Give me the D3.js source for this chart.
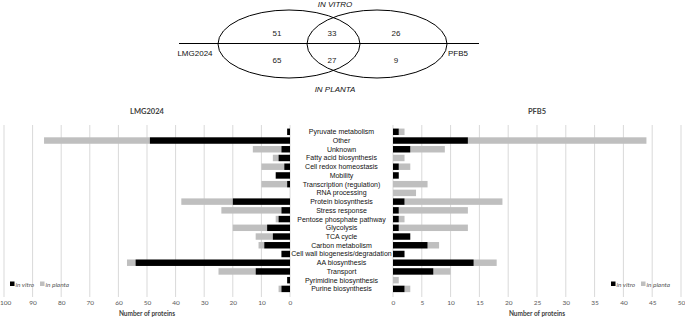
<!DOCTYPE html>
<html lang="en">
<head>
    <meta charset="UTF-8">
    <title>Proteins</title>
    <script src="https://cdn.jsdelivr.net/npm/d3@7/dist/d3.min.js"></script>
    <style>
        body { margin: 0; background: #fff; }
    </style>
</head>
<body>
    <script>
        // categories, top to bottom
        const categories = ["Pyruvate metabolism", "Other", "Unknown", "Fatty acid biosynthesis",
            "Cell redox homeostasis", "Mobility", "Transcription (regulation)", "RNA processing",
            "Protein biosynthesis", "Stress response", "Pentose phosphate pathway", "Glycolysis",
            "TCA cycle", "Carbon metabolism", "Cell wall biogenesis/degradation", "AA biosynthesis",
            "Transport", "Pyrimidine biosynthesis", "Purine biosynthesis"];
        const lmgVitro  = [1, 49, 3, 4, 2, 5, 1, 0, 20, 3, 4, 8, 6, 9, 3, 54, 12, 1, 3];
        const lmgPlanta = [0, 37, 10, 2, 8, 0, 9, 0, 18, 21, 1, 12, 6, 2, 0, 3, 13, 0, 1];
        const pfbVitro  = [1, 13, 3, 0, 1, 1, 0, 0, 2, 1, 1, 1, 3, 6, 2, 14, 7, 0, 2];
        const pfbPlanta = [1, 31, 6, 2, 2, 0, 6, 4, 17, 12, 1, 12, 0, 2, 0, 4, 3, 1, 1];
        const leftTicks  = d3.range(0, 101, 10);
        const rightTicks = d3.range(0, 51, 5);
        // venn counts: [in vitro row, in planta row]
        const vennVitro  = [51, 33, 26];
        const vennPlanta = [65, 27, 9];

        let width = 685;
        let height = 317;
        let svg = d3.select("body").append("svg")
            .attr("width", width)
            .attr("height", height);

        let sans = "'Liberation Sans', Arial, sans-serif";
        let calib = "Lato, 'Open Sans', sans-serif";

        // ---- venn diagram ----
        let venn = svg.append("g");
        venn.append("line")
            .attr("x1", 179).attr("x2", 479)
            .attr("y1", 43.5).attr("y2", 43.5)
            .attr("stroke", "#000").attr("stroke-width", 1);
        [[289, 71], [377, 70]].forEach(e => {
            venn.append("ellipse")
                .attr("cx", e[0]).attr("cy", 44)
                .attr("rx", e[1]).attr("ry", 34)
                .attr("fill", "none").attr("stroke", "#000").attr("stroke-width", 1);
        });
        let vennX = [277, 332, 396];
        venn.selectAll(".vv").data(vennVitro).join("text")
            .attr("x", (d, i) => vennX[i]).attr("y", 36)
            .attr("text-anchor", "middle")
            .style("font", `8px ${sans}`).attr("fill", "#222")
            .text(d => d);
        venn.selectAll(".vp").data(vennPlanta).join("text")
            .attr("x", (d, i) => vennX[i]).attr("y", 63)
            .attr("text-anchor", "middle")
            .style("font", `8px ${sans}`).attr("fill", "#222")
            .text(d => d);
        venn.append("text").attr("x", 335).attr("y", 7)
            .attr("text-anchor", "middle")
            .style("font", `italic 8px ${sans}`).attr("fill", "#111").text("IN VITRO");
        venn.append("text").attr("x", 335).attr("y", 92)
            .attr("text-anchor", "middle")
            .style("font", `italic 8px ${sans}`).attr("fill", "#111").text("IN PLANTA");
        venn.append("text").attr("x", 195).attr("y", 56)
            .attr("text-anchor", "middle")
            .style("font", `8px ${sans}`).attr("fill", "#111").text("LMG2024");
        venn.append("text").attr("x", 458).attr("y", 56)
            .attr("text-anchor", "middle")
            .style("font", `8px ${sans}`).attr("fill", "#111").text("PFB5");

        // ---- bar charts ----
        let y = d3.scaleBand()
            .domain(categories)
            .range([126.3, 294.4])
            .padding(0.26);

        let xl = d3.scaleLinear().domain([0, 100]).range([290, 4]);
        let xr = d3.scaleLinear().domain([0, 50]).range([393, 681]);

        function panel(x, ticks, vitro, planta, title, titleX, legendX) {
            let g = svg.append("g");
            // gridlines
            g.selectAll(".grid").data(ticks).join("line")
                .attr("x1", d => x(d)).attr("x2", d => x(d))
                .attr("y1", 125).attr("y2", 297)
                .attr("stroke", "#d9d9d9").attr("stroke-width", 1);

            let axis = d3.axisBottom(x).tickValues(ticks).tickSize(0).tickPadding(0);
            let ag = g.append("g").attr("transform", `translate(0, 299)`).call(axis);
            ag.select(".domain").remove();
            ag.selectAll("text")
                .style("font", `6.5px ${calib}`).attr("fill", "#595959").attr("dy", "0.9em");
            // keep the outermost label inside the page
            ag.selectAll("text").filter(d => x(d) < 6).attr("dx", 1.2);

            let rows = categories.map((c, i) => ({c: c, v: vitro[i], p: planta[i]}));
            g.selectAll(".pl").data(rows).join("rect")
                .attr("x", d => Math.min(x(d.v), x(d.v + d.p)))
                .attr("y", d => y(d.c))
                .attr("width", d => Math.abs(x(d.v + d.p) - x(d.v)))
                .attr("height", y.bandwidth())
                .attr("fill", "#bfbfbf");
            g.selectAll(".vi").data(rows).join("rect")
                .attr("x", d => Math.min(x(0), x(d.v)))
                .attr("y", d => y(d.c))
                .attr("width", d => Math.abs(x(d.v) - x(0)))
                .attr("height", y.bandwidth())
                .attr("fill", "#000");

            g.append("text").attr("x", titleX).attr("y", 114)
                .attr("text-anchor", "middle")
                .style("font", `bold 7.5px ${calib}`).attr("fill", "#404040")
                .text(title);
            g.append("text").attr("x", titleX).attr("y", 315.5)
                .attr("text-anchor", "middle")
                .style("font", `bold 6.5px ${calib}`).attr("fill", "#404040")
                .text("Number of proteins");

            // legend
            let lg = g.append("g").attr("transform", `translate(${legendX}, 285)`);
            lg.append("rect").attr("x", 0).attr("y", -3.5).attr("width", 4.5).attr("height", 4.5).attr("fill", "#000");
            lg.append("text").attr("x", 5.5).attr("y", 1.5)
                .style("font", `italic 6.5px ${calib}`).attr("fill", "#595959").text("in vitro");
            lg.append("rect").attr("x", 30).attr("y", -3.5).attr("width", 4.5).attr("height", 4.5).attr("fill", "#bfbfbf");
            lg.append("text").attr("x", 35.5).attr("y", 1.5)
                .style("font", `italic 6.5px ${calib}`).attr("fill", "#595959").text("in planta");
        }

        panel(xl, leftTicks, lmgVitro, lmgPlanta, "LMG2024", 147, 10);
        panel(xr, rightTicks, pfbVitro, pfbPlanta, "PFB5", 537, 611);

        // category labels in the middle
        svg.selectAll(".cat").data(categories).join("text")
            .attr("x", 341.5)
            .attr("y", d => y(d) + y.bandwidth() / 2)
            .attr("dy", "0.35em")
            .attr("text-anchor", "middle")
            .style("font", `7px ${sans}`).attr("fill", "#111")
            .text(d => d);
    </script>
</body>
</html>
